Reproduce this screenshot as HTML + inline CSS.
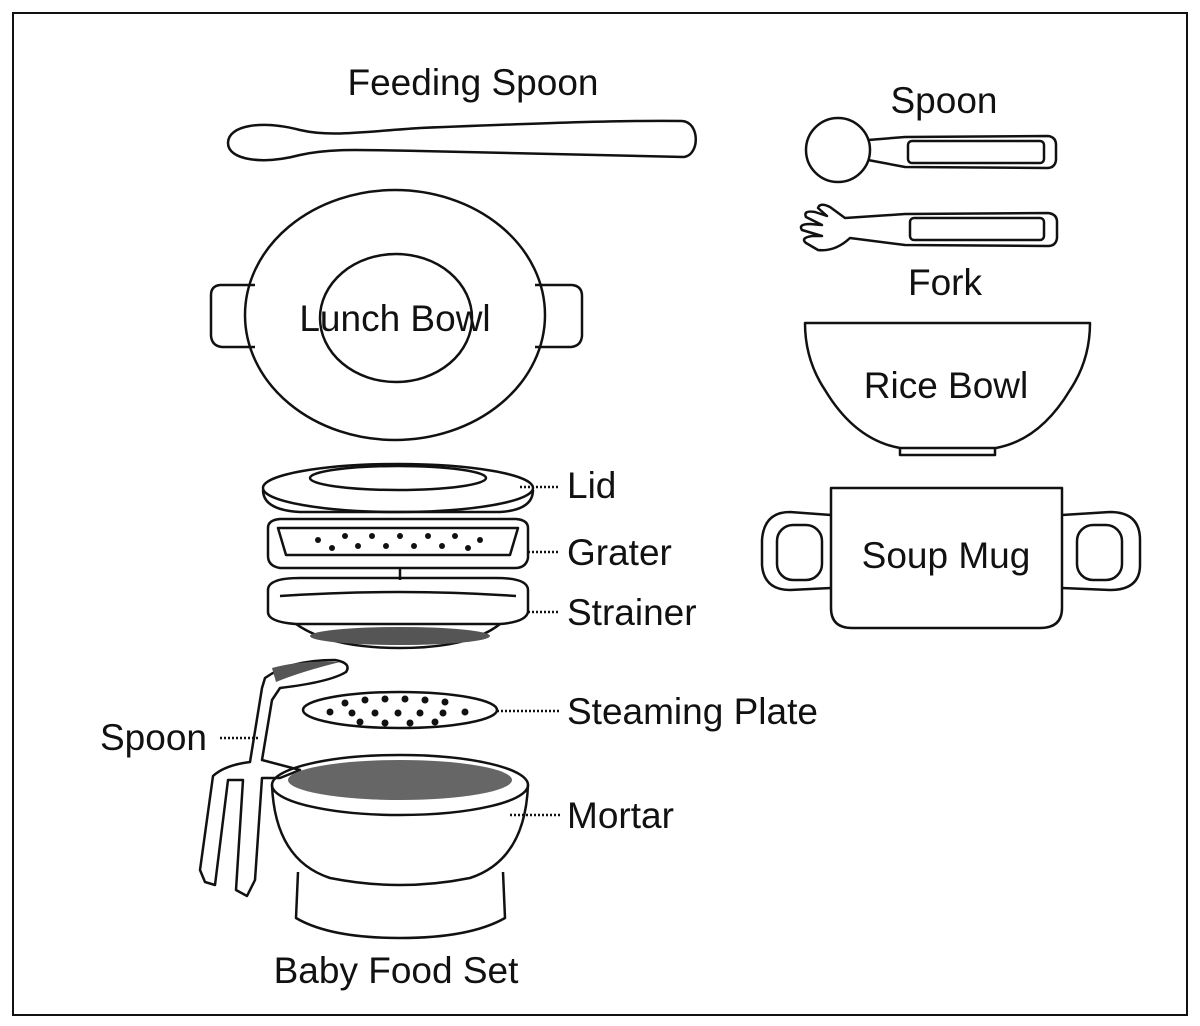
<!DOCTYPE html>
<html><head><meta charset="utf-8"><style>
html,body{margin:0;padding:0;background:#fff;}
svg{display:block;}
text{font-family:"Liberation Sans",sans-serif;font-size:37px;fill:#111;}
</style></head><body>
<svg width="1200" height="1026" viewBox="0 0 1200 1026" xmlns="http://www.w3.org/2000/svg">
<rect x="13" y="13" width="1174" height="1002" fill="#fff" stroke="#111" stroke-width="2"/>
<g fill="none" stroke="#111" stroke-width="2.5" stroke-linejoin="round">
<!-- feeding spoon -->
<path d="M228,143 C228,125 262,120 300,130 C330,137 360,132 420,128 C520,124 620,120 682,121 C700,122 700,155 684,157 C620,156 520,153 420,151 C360,150 330,148 300,155 C262,165 228,160 228,143 Z"/>
<!-- lunch bowl -->
<path d="M255,285 L220,285 Q211,286 211,295 L211,336 Q212,346 222,347 L255,347"/>
<path d="M535,285 L572,285 Q582,286 582,296 L582,336 Q581,346 571,347 L535,347"/>
<ellipse cx="395" cy="315" rx="150" ry="125"/>
<ellipse cx="396" cy="318" rx="76" ry="64"/>
<!-- spoon right -->
<circle cx="838" cy="150" r="32"/>
<path d="M868,140 L905,137 L1048,136 Q1056,137 1056,145 L1056,160 Q1055,168 1047,168 L905,167 L868,160"/>
<rect x="908" y="141" width="136" height="22" rx="4"/>
<!-- fork -->
<path d="M845,218 L905,214 L1048,213 Q1057,214 1057,222 L1057,238 Q1056,246 1048,246 L905,245 L850,238 Q835,252 818,250 L806,243 Q800,238 812,236 L822,236 L802,230 Q798,224 810,224 L822,225 L806,217 Q803,210 815,212 L827,216 L818,208 Q820,202 830,207 Z"/>
<rect x="910" y="218" width="134" height="22" rx="4"/>
<!-- rice bowl -->
<path d="M805,323 L1090,323 Q1090,360 1070,390 Q1040,440 996,448 L900,448 Q855,440 825,390 Q805,360 805,323 Z"/>
<path d="M900,448 L900,455 L995,455 L995,448"/>
<!-- soup mug -->
<path d="M831,488 L1062,488 L1062,608 Q1062,628 1040,628 L852,628 Q831,628 831,608 Z"/>
<path d="M831,515 L790,512 Q764,512 762,540 L762,565 Q764,590 790,590 L831,588"/>
<rect x="777" y="525" width="45" height="55" rx="16"/>
<path d="M1062,515 L1110,512 Q1140,512 1140,540 L1140,565 Q1140,590 1110,590 L1062,588"/>
<rect x="1077" y="525" width="45" height="55" rx="16"/>
<!-- lid -->
<path d="M263,490 Q263,510 300,512 L500,512 Q533,510 533,490"/>
<ellipse cx="398" cy="488" rx="135" ry="24"/>
<ellipse cx="398" cy="478" rx="88" ry="12"/>
<!-- grater -->
<path d="M268,528 Q268,520 280,519 L516,519 Q528,520 528,528 L528,558 Q526,568 515,568 L280,568 Q268,566 268,556 Z"/>
<path d="M278,528 L518,528 L510,555 L286,555 Z"/>
<line x1="400" y1="568" x2="400" y2="580"/>
<!-- strainer -->
<path d="M268,590 Q268,578 300,578 L496,578 Q528,578 528,590 L528,612 Q526,622 500,624 L296,624 Q268,622 268,612 Z"/>
<path d="M280,596 Q400,588 516,596"/>
<path d="M296,624 Q330,648 400,648 Q470,648 500,624"/>
<!-- steaming plate -->
<ellipse cx="400" cy="710" rx="97" ry="18"/>
<!-- mortar -->
<ellipse cx="400" cy="785" rx="128" ry="30"/>
<path d="M272,785 Q275,860 330,878 Q400,892 470,878 Q525,860 528,785"/>
<path d="M298,872 L296,918 Q330,938 400,938 Q470,938 505,918 L503,872"/>
<!-- masher spoon -->
<path d="M265,678 Q290,660 335,660 Q352,663 346,672 Q330,682 280,688 L272,700 L262,760 L300,770 L280,778 L262,778 L255,880 L247,896 L236,890 L243,780 L228,780 L215,885 L205,882 L200,870 L213,776 Q225,765 250,762 L262,688 Z"/>
</g>
<!-- mesh/patterns -->
<g fill="#111">
<ellipse cx="400" cy="636" rx="90" ry="9" fill="#555"/>
<ellipse cx="400" cy="780" rx="112" ry="20" fill="#666"/>
<path d="M272,668 Q300,660 340,662 Q300,672 276,682 Z" fill="#555"/>
</g>
<g fill="#111">
<circle cx="318" cy="540" r="3"/><circle cx="345" cy="536" r="3"/><circle cx="372" cy="536" r="3"/><circle cx="400" cy="536" r="3"/><circle cx="428" cy="536" r="3"/><circle cx="455" cy="536" r="3"/><circle cx="480" cy="540" r="3"/>
<circle cx="332" cy="548" r="3"/><circle cx="358" cy="546" r="3"/><circle cx="386" cy="546" r="3"/><circle cx="414" cy="546" r="3"/><circle cx="442" cy="546" r="3"/><circle cx="468" cy="548" r="3"/>
<circle cx="345" cy="703" r="3.5"/><circle cx="365" cy="700" r="3.5"/><circle cx="385" cy="699" r="3.5"/><circle cx="405" cy="699" r="3.5"/><circle cx="425" cy="700" r="3.5"/><circle cx="445" cy="702" r="3.5"/>
<circle cx="330" cy="712" r="3.5"/><circle cx="352" cy="713" r="3.5"/><circle cx="375" cy="713" r="3.5"/><circle cx="398" cy="713" r="3.5"/><circle cx="420" cy="713" r="3.5"/><circle cx="443" cy="713" r="3.5"/><circle cx="465" cy="712" r="3.5"/>
<circle cx="360" cy="722" r="3.5"/><circle cx="385" cy="723" r="3.5"/><circle cx="410" cy="723" r="3.5"/><circle cx="435" cy="722" r="3.5"/>
</g>
<!-- leaders -->
<g stroke="#111" stroke-width="2.5" stroke-dasharray="2,2">
<line x1="520" y1="487" x2="560" y2="487"/>
<line x1="528" y1="552" x2="560" y2="552"/>
<line x1="528" y1="612" x2="560" y2="612"/>
<line x1="497" y1="711" x2="560" y2="711"/>
<line x1="510" y1="815" x2="560" y2="815"/>
<line x1="220" y1="738" x2="258" y2="738"/>
</g>
<text x="473" y="95" text-anchor="middle">Feeding Spoon</text>
<text x="944" y="113" text-anchor="middle">Spoon</text>
<text x="945" y="295" text-anchor="middle">Fork</text>
<text x="395" y="331" text-anchor="middle">Lunch Bowl</text>
<text x="946" y="398" text-anchor="middle">Rice Bowl</text>
<text x="946" y="568" text-anchor="middle">Soup Mug</text>
<text x="567" y="498">Lid</text>
<text x="567" y="565">Grater</text>
<text x="567" y="625">Strainer</text>
<text x="567" y="724">Steaming Plate</text>
<text x="100" y="750">Spoon</text>
<text x="567" y="828">Mortar</text>
<text x="396" y="983" text-anchor="middle">Baby Food Set</text>
</svg>
</body></html>
